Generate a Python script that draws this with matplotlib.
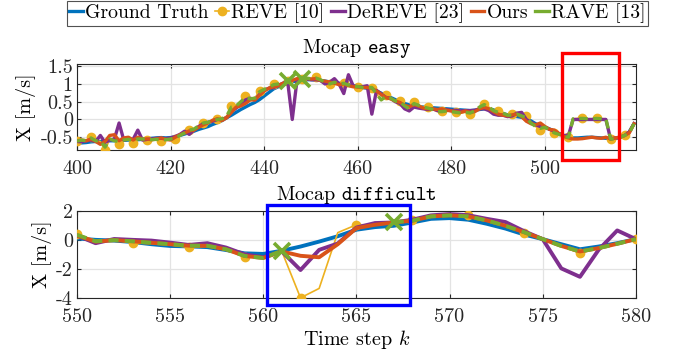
import numpy as np
import matplotlib
matplotlib.use("Agg")
import matplotlib.pyplot as plt
from matplotlib.patches import Rectangle
from matplotlib.lines import Line2D

plt.rcParams['font.family'] = ['cmr10', 'DejaVu Serif']
plt.rcParams['mathtext.fontset'] = 'cm'
plt.rcParams['axes.unicode_minus'] = False
plt.rcParams['axes.formatter.use_mathtext'] = True

nan = np.nan

# ---------------- Top panel (Mocap easy) ----------------
steps_easy = list(range(400, 520))

gt_easy = [-0.65, -0.66, -0.65, -0.63, -0.62, -0.62, -0.61, -0.60, -0.60, -0.59,
           -0.59, -0.58, -0.58, -0.57, -0.56, -0.55, -0.53, -0.52, -0.51, -0.52,
           -0.51, -0.49, -0.45, -0.41, -0.37, -0.33, -0.28, -0.24, -0.20, -0.14,
           -0.09, -0.03, 0.05, 0.12, 0.20, 0.28, 0.35, 0.42, 0.48, 0.56,
           0.66, 0.76, 0.86, 0.92, 0.97, 1.02, 1.06, 1.09, 1.11, 1.12,
           1.12, 1.11, 1.10, 1.08, 1.06, 1.04, 1.02, 1.00, 0.98, 0.95,
           0.92, 0.90, 0.88, 0.85, 0.80, 0.74, 0.68, 0.62, 0.56, 0.50,
           0.45, 0.41, 0.38, 0.36, 0.35, 0.34, 0.33, 0.32, 0.31, 0.30,
           0.29, 0.28, 0.27, 0.26, 0.25, 0.26, 0.28, 0.30, 0.30, 0.27,
           0.22, 0.17, 0.13, 0.10, 0.08, 0.06, 0.02, -0.04, -0.12, -0.18,
           -0.22, -0.27, -0.33, -0.40, -0.46, -0.50, -0.52, -0.52, -0.51, -0.50,
           -0.50, -0.51, -0.52, -0.53, -0.54, -0.54, -0.50, -0.45, -0.35, -0.12]

reve_easy = [-0.61, -0.58, -0.60, -0.50, -0.60, -0.62, -0.87, -0.55, -0.60, -0.68,
             -0.58, -0.56, -0.65, -0.55, -0.55, -0.58, -0.57, -0.56, -0.61, -0.57,
             -0.55, -0.55, -0.45, -0.38, -0.30, -0.27, -0.18, -0.09, -0.08, -0.03,
             0.01, 0.02, 0.10, 0.37, 0.38, 0.50, 0.67, 0.58, 0.60, 0.81,
             0.85, 0.90, 1.00, 1.00, 1.03, 1.09, 1.12, 1.14, 1.15, 1.16,
             1.15, 1.19, 1.12, 1.05, 0.99, 1.05, 1.00, 1.02, 0.97, 0.93,
             0.92, 0.90, 0.90, 0.89, 0.72, 0.55, 0.70, 0.60, 0.52, 0.53,
             0.38, 0.30, 0.48, 0.40, 0.35, 0.36, 0.28, 0.22, 0.24, 0.24,
             0.22, 0.21, 0.18, 0.20, 0.16, 0.25, 0.35, 0.44, 0.35, 0.25,
             0.24, 0.18, 0.12, 0.16, 0.15, 0.10, 0.10, -0.10, -0.20, -0.29,
             -0.22, -0.30, -0.39, -0.42, -0.48, -0.50, 0.02, 0.03, 0.05, 0.02,
             0.02, 0.05, 0.02, 0.02, -0.55, -0.55, -0.50, -0.44, -0.38, -0.12]

dereve_easy = [-0.62, -0.63, -0.60, -0.58, -0.62, -0.45, -0.65, -0.58, -0.55, -0.10,
               -0.58, -0.55, -0.56, -0.30, -0.58, -0.56, -0.55, -0.53, -0.53, -0.54,
               -0.52, -0.48, -0.42, -0.33, -0.42, -0.30, -0.20, -0.12, -0.08, -0.05,
               0.00, 0.00, 0.05, 0.22, 0.32, 0.42, 0.55, 0.60, 0.55, 0.70,
               0.82, 0.88, 0.90, 0.95, 1.02, 1.08, 0.00, 1.10, 1.15, 1.15,
               1.12, 1.12, 1.10, 1.00, 1.05, 1.15, 1.00, 0.73, 1.26, 0.95,
               0.92, 0.92, 0.95, 0.15, 0.82, 0.72, 0.62, 0.60, 0.50, 0.45,
               0.30, 0.24, 0.35, 0.32, 0.30, 0.28, 0.30, 0.25, 0.24, 0.28,
               0.25, 0.26, 0.24, 0.25, 0.25, 0.26, 0.30, 0.30, 0.25, 0.15,
               0.12, 0.12, 0.08, 0.10, 0.18, 0.20, 0.00, -0.08, -0.15, -0.20,
               -0.22, -0.28, -0.33, -0.40, -0.45, -0.45, 0.00, 0.00, 0.00, 0.00,
               0.00, 0.00, 0.00, 0.00, -0.55, -0.52, -0.50, -0.45, -0.35, -0.12]

ours_easy = [-0.60, -0.58, -0.60, -0.55, -0.62, -0.70, -0.62, -0.45, -0.43, -0.60,
             -0.52, -0.50, -0.58, -0.50, -0.55, -0.55, -0.57, -0.55, -0.52, -0.56,
             -0.58, -0.50, -0.43, -0.38, -0.32, -0.30, -0.22, -0.15, -0.10, -0.02,
             0.02, -0.03, 0.05, 0.20, 0.35, 0.38, 0.45, 0.55, 0.55, 0.68,
             0.80, 0.88, 0.92, 0.95, 1.02, 1.05, 1.10, 1.15, 1.17, 1.16,
             1.14, 1.15, 1.10, 1.08, 1.05, 1.02, 0.98, 1.00, 0.95, 0.92,
             0.92, 0.90, 0.90, 0.88, 0.80, 0.70, 0.62, 0.58, 0.52, 0.48,
             0.40, 0.36, 0.42, 0.38, 0.32, 0.30, 0.30, 0.28, 0.30, 0.26,
             0.24, 0.22, 0.20, 0.24, 0.20, 0.22, 0.30, 0.34, 0.30, 0.22,
             0.15, 0.12, 0.10, 0.13, 0.15, 0.08, -0.05, -0.12, -0.15, -0.10,
             -0.20, -0.28, -0.30, -0.40, -0.48, -0.52, -0.55, -0.55, -0.54, -0.52,
             -0.50, -0.52, -0.53, -0.50, -0.55, -0.52, -0.50, -0.45, -0.38, -0.12]

rave_easy = [-0.61, -0.58, -0.60, -0.52, -0.60, -0.60, -0.78, -0.55, -0.60, -0.62,
             -0.58, -0.56, -0.60, -0.55, -0.55, -0.56, -0.57, -0.56, -0.58, -0.57,
             -0.55, -0.52, -0.45, -0.38, -0.30, -0.27, -0.18, -0.10, -0.08, -0.03,
             0.00, 0.02, 0.10, 0.35, 0.38, 0.50, 0.62, 0.58, 0.60, 0.78,
             0.85, 0.90, 0.98, 1.00, 1.03, 1.08, nan, nan, 1.15, 1.16,
             1.15, 1.17, 1.12, 1.05, 1.00, 1.05, 1.00, 1.02, 0.97, 0.93,
             0.93, 0.90, 0.90, 0.90, 0.72, 0.55, 0.65, 0.60, 0.52, 0.50,
             0.38, 0.30, 0.45, 0.40, 0.35, 0.32, 0.28, 0.22, 0.22, 0.24,
             0.22, 0.20, 0.18, 0.20, 0.18, 0.25, 0.35, 0.42, 0.35, 0.25,
             0.20, 0.18, 0.12, 0.12, 0.15, 0.10, 0.05, -0.10, -0.20, -0.25,
             -0.22, -0.30, -0.38, -0.42, -0.48, -0.50, 0.02, 0.03, 0.03, 0.02,
             0.02, 0.03, 0.02, 0.02, -0.55, -0.55, -0.50, -0.45, -0.38, -0.12]

rave_flag_easy = [445, 448]

# ---------------- Bottom panel (Mocap difficult) ----------------
steps_diff = list(range(550, 581))

gt_diff = [0.10, 0.00, -0.05, -0.15, -0.30, -0.42, -0.45, -0.50, -0.70, -0.93,
           -0.97, -0.75, -0.46, -0.12, 0.25, 0.70, 0.88, 0.97, 1.20, 1.45,
           1.50, 1.39, 1.11, 0.78, 0.37, 0.05, -0.30, -0.65, -0.46, -0.23, 0.05]

reve_diff = [0.40, -0.05, 0.00, -0.23, -0.25, -0.35, -0.52, -0.45, -0.70, -1.16,
             -1.20, -0.80, -4.00, -3.35, 0.50, 1.04, 1.05, 1.20, 1.39, 1.60,
             1.68, 1.69, 1.35, 0.97, 0.46, 0.05, -0.42, -0.93, -0.57, -0.27, 0.07]

dereve_diff = [0.30, -0.23, 0.06, 0.00, -0.05, -0.19, -0.35, -0.23, -0.53, -1.00,
               -1.20, -0.80, -2.08, -0.69, -0.25, 0.85, 1.16, 1.20, 1.39, 1.69,
               1.78, 1.70, 1.45, 1.23, 0.60, 0.05, -1.97, -2.55, -0.69, 0.65, 0.05]

ours_diff = [0.30, -0.12, -0.02, -0.10, -0.20, -0.30, -0.40, -0.41, -0.65, -1.11,
             -1.25, -0.80, -1.10, -1.20, -0.30, 0.81, 1.04, 1.20, 1.32, 1.62,
             1.69, 1.62, 1.34, 0.97, 0.53, 0.05, -0.42, -0.80, -0.57, -0.27, 0.05]

rave_diff = [0.35, -0.10, -0.02, -0.10, -0.20, -0.30, -0.40, -0.41, -0.65, -1.11,
             -1.25, -0.75, nan, nan, nan, nan, nan, 1.22, 1.32, 1.62,
             1.69, 1.62, 1.34, 0.97, 0.53, 0.05, -0.42, -0.80, -0.57, -0.27, 0.05]

rave_flag_diff = [561, 567]

labels = ['Ground Truth', 'REVE [10]', 'DeREVE [23]', 'Ours', 'RAVE [13]']

C_GT = '#0072BD'
C_REVE = '#EDB120'
C_DE = '#7E2F8E'
C_OURS = '#D95319'
C_RAVE = '#77AC30'

FS = 14.5

fig = plt.figure(figsize=(6.75, 3.58), dpi=100)
ax1 = fig.add_axes([0.114, 0.581, 0.828, 0.240])
ax2 = fig.add_axes([0.114, 0.168, 0.828, 0.243])


def draw(ax, x, gt, reve, de, ours, rave, flags, lw):
    ax.plot(x, gt, color=C_GT, lw=lw, zorder=3)
    ax.plot(x, reve, color=C_REVE, lw=1.2, marker='o', ms=6, markevery=3,
            mec=C_REVE, mfc=C_REVE, zorder=4)
    ax.plot(x, de, color=C_DE, lw=lw, zorder=5)
    ax.plot(x, ours, color=C_OURS, lw=lw, zorder=6)
    ax.plot(x, rave, color=C_RAVE, lw=lw, ls=(0, (2.6, 1.6)), zorder=7)
    fy = [rave[x.index(f)] if not np.isnan(rave[x.index(f)]) else ours[x.index(f)] for f in flags]
    ax.plot(flags, fy, ls='none', marker='x', ms=11, mew=2.6, color=C_RAVE, zorder=8)


draw(ax1, steps_easy, gt_easy, reve_easy, dereve_easy, ours_easy, rave_easy,
     rave_flag_easy, 2.4)
draw(ax2, steps_diff, gt_diff, reve_diff, dereve_diff, ours_diff, rave_diff,
     rave_flag_diff, 2.8)

for ax in (ax1, ax2):
    ax.grid(True, color='#e3e3e3', lw=0.9, zorder=0)
    ax.set_axisbelow(True)
    ax.tick_params(direction='in', top=True, right=True, length=3, width=0.8,
                   labelsize=FS, colors='#262626')
    ax.tick_params(axis='x', pad=7)
    ax.tick_params(axis='y', pad=3)
    for s in ax.spines.values():
        s.set_color('#262626')
        s.set_linewidth(0.8)
    ax.set_ylabel('X [m/s]', fontsize=FS, labelpad=3)

ax1.set_xlim(400, 519.4)
ax1.set_ylim(-0.86, 1.56)
ax1.set_xticks([400, 420, 440, 460, 480, 500])
ax1.set_xticklabels(['400', '420', '440', '460', '480', '500'])
ax1.set_yticks([-0.5, 0, 0.5, 1, 1.5])
ax1.set_yticklabels(['-0.5', '0', '0.5', '1', '1.5'])
ax1.set_title(r'Mocap $\mathtt{easy}$', fontsize=FS, pad=8)

ax2.set_xlim(550, 580)
ax2.set_ylim(-4, 2)
ax2.set_xticks([550, 555, 560, 565, 570, 575, 580])
ax2.set_xticklabels(['550', '555', '560', '565', '570', '575', '580'])
ax2.set_yticks([-4, -2, 0, 2])
ax2.set_yticklabels(['-4', '-2', '0', '2'])
ax2.set_title(r'Mocap $\mathtt{difficult}$', fontsize=FS, pad=8)
ax2.set_xlabel(r'Time step $k$', fontsize=FS, labelpad=2)

ax1.add_patch(Rectangle((503.7, -1.13), 12.1, 2.99, fill=False, ec='#ff0000',
                        lw=2.4, clip_on=False, zorder=10))
ax2.add_patch(Rectangle((560.2, -4.52), 7.7, 6.92, fill=False, ec='#0000ff',
                        lw=2.4, clip_on=False, zorder=10))

handles = [Line2D([], [], color=C_GT, lw=2.4),
           Line2D([], [], color=C_REVE, lw=1.2, marker='o', ms=6),
           Line2D([], [], color=C_DE, lw=2.4),
           Line2D([], [], color=C_OURS, lw=2.4),
           Line2D([], [], color=C_RAVE, lw=2.4)]
leg = fig.legend(handles, labels, loc='upper center', bbox_to_anchor=(0.529, 0.997),
                 ncol=5, fontsize=14.2, frameon=True, fancybox=False,
                 handlelength=0.7, handletextpad=0.1, columnspacing=0.35,
                 borderpad=0.12, borderaxespad=0.0)
leg.get_frame().set_edgecolor('#262626')
leg.get_frame().set_linewidth(0.8)

fig.savefig('out.png', dpi=100)
